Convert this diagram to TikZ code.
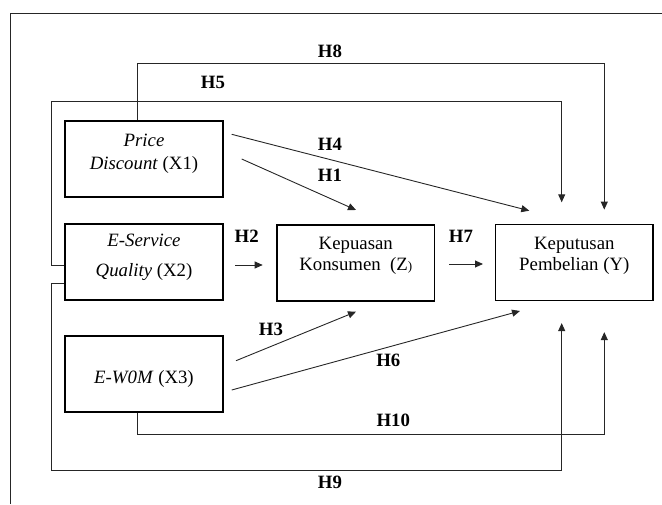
\documentclass[tikz,border=0pt]{standalone}
\usepackage{fontspec}
\setmainfont{Liberation Serif}
\usetikzlibrary{arrows.meta,calc}
\begin{document}
\begin{tikzpicture}[x=1pt,y=-1pt,
  box/.style={draw=black,line width=1.8pt,minimum width=157.5pt,minimum height=76pt,inner sep=0pt},
  txt/.style={anchor=base,inner sep=0pt,font=\fontsize{18.8}{22}\selectfont},
  hlab/.style={inner sep=0pt,font=\fontsize{18.8}{22}\selectfont\bfseries},
  conn/.style={draw=black!85,line width=0.9pt},
  arr/.style={conn,-{Triangle[length=8pt,width=7pt]}},
  frame/.style={draw=black!85,line width=1pt}]
\useasboundingbox (0,0) rectangle (662,504);
\draw[frame] (10.5,504) -- (10.5,13.3) -- (662,13.3);

% boxes
\node[box] (x1) at (144,158.7) {};
\node[box] (x2) at (144,261.7) {};
\node[box] (x3) at (144,374.2) {};
\node[box] (z) at (355.8,263) {};
\node[box] (y) at (574.3,262.5) {};

% box texts
\node[txt] (x1a) at (144,146) {\itshape Price};
\node[txt] (x1b) at (144,169) {\itshape Discount\/ \upshape(X1)};
\node[txt] (x2a) at (144,246.5) {\itshape E-Service};
\node[txt] (x2b) at (144,276) {\itshape Quality\/ \upshape(X2)};
\node[txt] (x3a) at (144,383.3) {\itshape E-W0M\/ \upshape(X3)};
\node[txt] (za) at (355.8,249) {Kepuasan};
\node[txt] (zb) at (355.8,270.7) {Konsumen\ \ (Z{\fontsize{13}{13}\selectfont)}};
\node[txt] (ya) at (574.3,249) {Keputusan};
\node[txt] (yb) at (574.3,270.7) {Pembelian (Y)};

% connector coordinates
\coordinate (h8a) at (137.7,63.3);
\coordinate (h8b) at (604.3,63.3);
\coordinate (h5a) at (51,101);
\coordinate (h5b) at (561.7,101);
\coordinate (h9a) at (51,470.7);
\coordinate (h9b) at (561.7,470.7);
\coordinate (h10a) at (137.7,434.3);
\coordinate (h10b) at (604.3,434.3);
\coordinate (h4s) at (231.7,134.3);
\coordinate (h4e) at (529.3,210.7);
\coordinate (h1s) at (241.7,159);
\coordinate (h1e) at (356,210);
\coordinate (h2s) at (235,265);
\coordinate (h2e) at (262.7,265);
\coordinate (h7s) at (449,264);
\coordinate (h7e) at (483,264);
\coordinate (h3s) at (236,360.7);
\coordinate (h3e) at (356,311.7);
\coordinate (h6s) at (231.7,390);
\coordinate (h6e) at (520,311);

% connectors
\draw[arr] (x1.north -| h8a) -- (h8a) -- (h8b) -- ($(y.north -| h8b)+(0,-14)$);
\draw[arr] ($(x2.west)+(0,3.3)$) -| (h5a) -- (h5b) -- ($(y.north -| h5b)+(0,-21.3)$);
\draw[arr] ($(x2.west)+(0,21.6)$) -| (h9a) -- (h9b) -- ($(y.south -| h9b)+(0,21.7)$);
\draw[arr] (x3.south -| h10a) -- (h10a) -- (h10b) -- ($(y.south -| h10b)+(0,30.7)$);
\draw[arr] (h4s) -- (h4e);
\draw[arr] (h1s) -- (h1e);
\draw[arr] (h2s) -- (h2e);
\draw[arr] (h7s) -- (h7e);
\draw[arr] (h3s) -- (h3e);
\draw[arr] (h6s) -- (h6e);

% labels
\node[hlab] (l8) at (330,51) {H8};
\node[hlab] (l5) at (213,82) {H5};
\node[hlab] (l4) at (330,144) {H4};
\node[hlab] (l1) at (330,175) {H1};
\node[hlab] (l2) at (246.7,236) {H2};
\node[hlab] (l7) at (461,236) {H7};
\node[hlab] (l3) at (271,329) {H3};
\node[hlab] (l6) at (388.3,360) {H6};
\node[hlab] (l10) at (393.3,420.7) {H10};
\node[hlab] (l9) at (330,482.7) {H9};
\end{tikzpicture}
\end{document}
